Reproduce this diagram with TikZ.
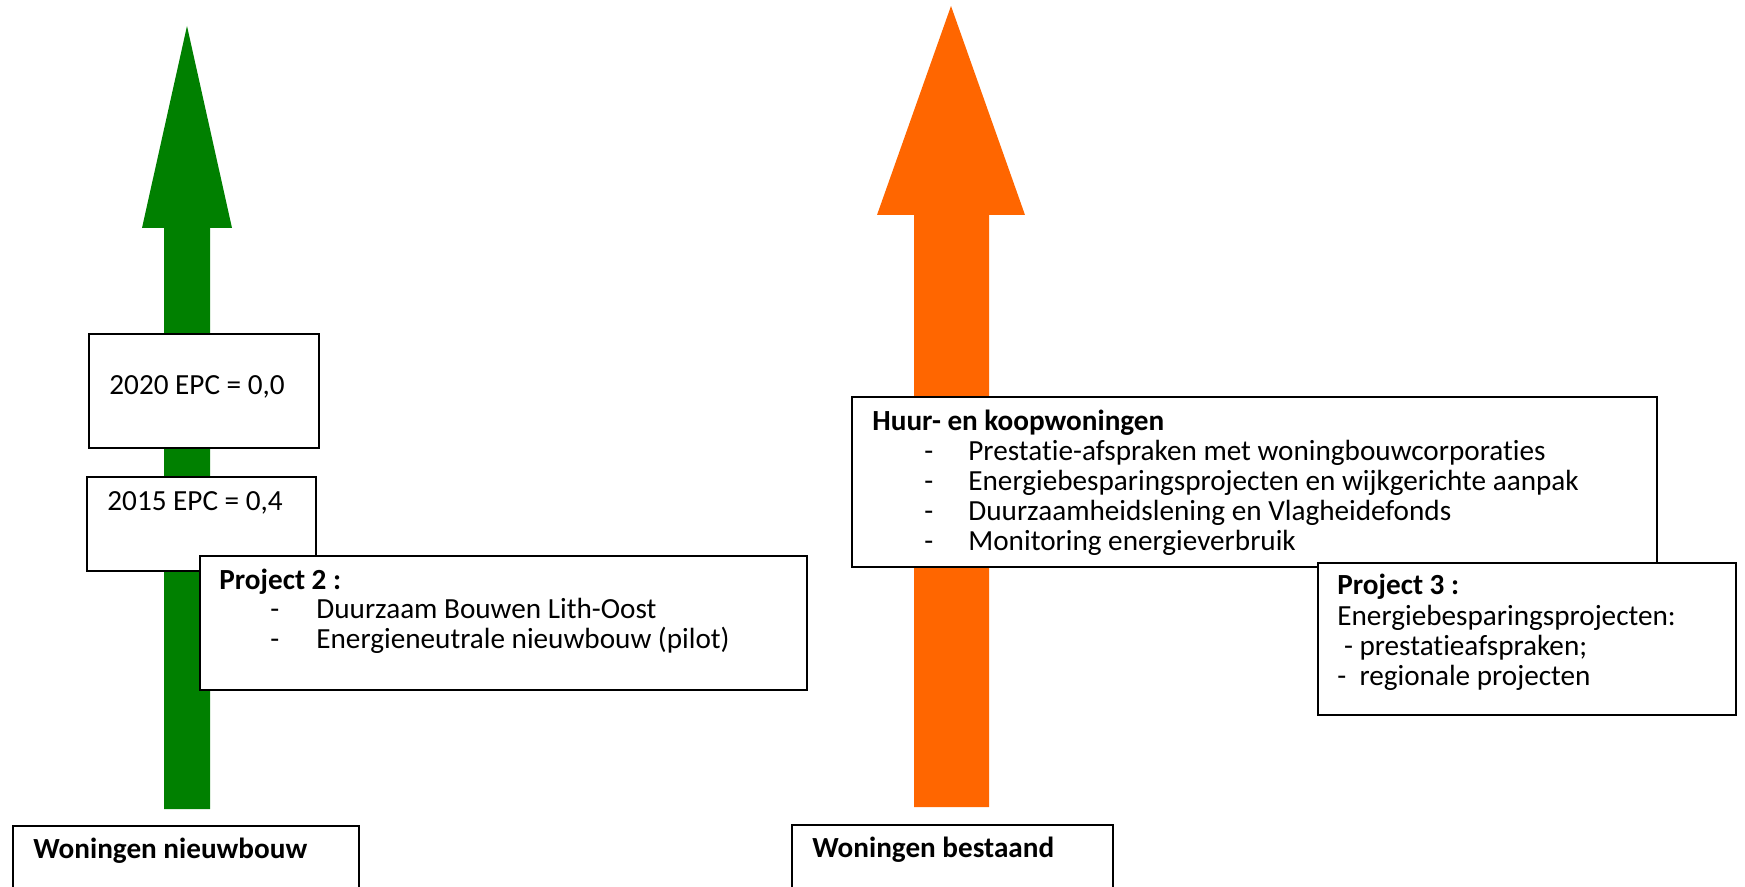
\documentclass[tikz,border=0pt]{standalone}
\usepackage{fontspec}
\setmainfont{Carlito}[Ligatures=NoCommon]
\usetikzlibrary{positioning}
\definecolor{newgreen}{RGB}{0,128,0}
\definecolor{oldorange}{RGB}{255,102,0}

\begin{document}
\begin{tikzpicture}[x=0.5pt,y=-0.5pt,font=\fontsize{14.6}{16}\selectfont,
  infobox/.style={draw=black,line width=1pt,fill=white,anchor=north west,inner sep=0pt},
  txt/.style={anchor=base west,inner sep=0pt},
  headtxt/.style={txt,font=\fontsize{14.6}{16}\selectfont\bfseries}]
\useasboundingbox (0,0) rectangle (1745,887);

% arrows
\fill[newgreen] (187,26) -- (232,228) -- (210,228) -- (210,809)
    -- (164,809) -- (164,228) -- (142,228) -- cycle;
\fill[oldorange] (951,6) -- (1025,215) -- (989,215) -- (989,807)
    -- (914,807) -- (914,215) -- (877,215) -- cycle;

% new houses
\node[infobox,minimum width=115pt,minimum height=57pt] (Epc2020) at (88,333) {};
\node[txt] (Epc2020Text) at (109,394) {2020 EPC = 0,0};
\node[infobox,minimum width=114.5pt,minimum height=47pt] (Epc2015) at (86,476) {};
\node[txt] (Epc2015Text) at (107,510) {2015 EPC = 0,4};

\node[infobox,minimum width=303.5pt,minimum height=67pt] (ProjectTwo) at (199,555) {};
\node[headtxt] (ProjectTwoTitle) at (219,589) {Project 2 :};
\node[txt] (ProjectTwoA) at (270,618) {\makebox[23pt][l]{-}Duurzaam Bouwen Lith-Oost};
\node[txt] (ProjectTwoB) at (270,648) {\makebox[23pt][l]{-}Energieneutrale nieuwbouw (pilot)};

\node[infobox,minimum width=173pt,minimum height=40pt] (Nieuwbouw) at (12,825) {};
\node[headtxt] (NieuwbouwText) at (33,858) {Woningen nieuwbouw};

% existing houses
\node[infobox,minimum width=402.5pt,minimum height=85pt] (Huur) at (851,396) {};
\node[headtxt] (HuurTitle) at (872,430) {Huur- en koopwoningen};
\node[txt] (HuurA) at (924,460) {\makebox[22pt][l]{-}Prestatie-afspraken met woningbouwcorporaties};
\node[txt] (HuurB) at (924,490) {\makebox[22pt][l]{-}Energiebesparingsprojecten en wijkgerichte aanpak};
\node[txt] (HuurC) at (924,520) {\makebox[22pt][l]{-}Duurzaamheidslening en Vlagheidefonds};
\node[txt] (HuurD) at (924,550) {\makebox[22pt][l]{-}Monitoring energieverbruik};

\node[infobox,minimum width=209pt,minimum height=76pt] (ProjectThree) at (1317,562) {};
\node[headtxt] (ProjectThreeTitle) at (1337,594) {Project 3 :};
\node[txt] (ProjectThreeA) at (1337,625) {Energiebesparingsprojecten:};
\node[txt] (ProjectThreeB) at (1337,655) {\ - prestatieafspraken;};
\node[txt] (ProjectThreeC) at (1337,685) {-\ \ regionale projecten};

\node[infobox,minimum width=160.5pt,minimum height=40pt] (Bestaand) at (791,824) {};
\node[headtxt] (BestaandText) at (812,857) {Woningen bestaand};
\end{tikzpicture}
\end{document}
